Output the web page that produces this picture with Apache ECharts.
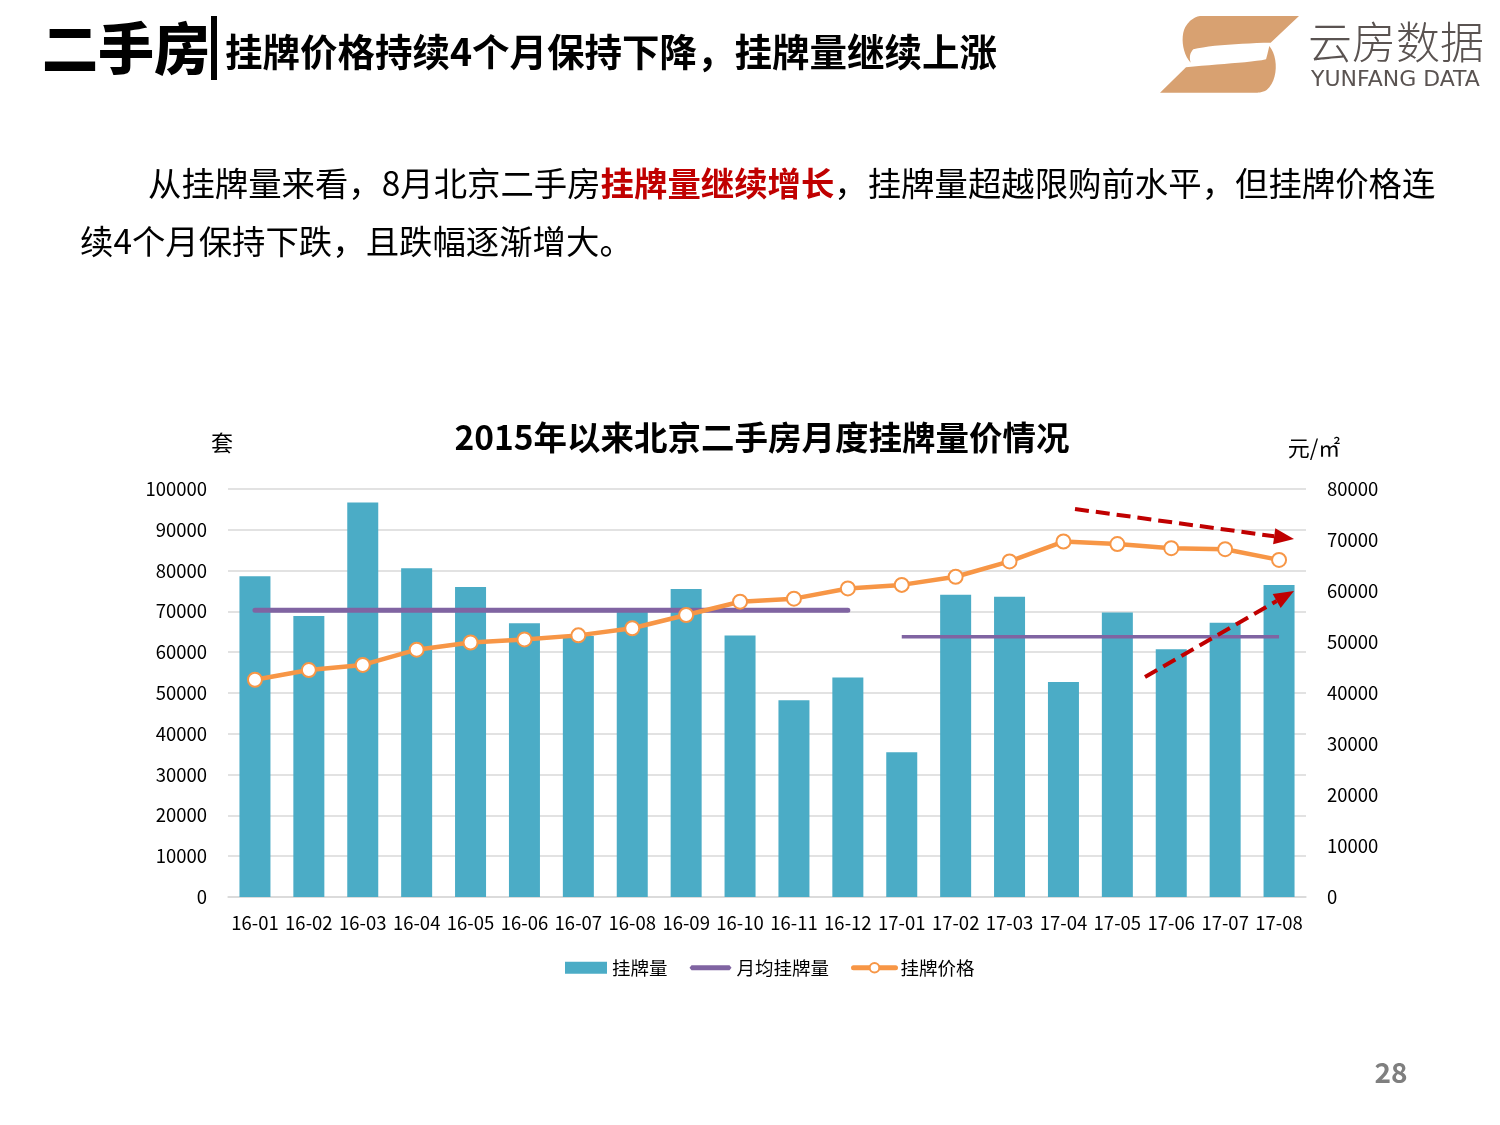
<!DOCTYPE html>
<html>
<head>
<meta charset="utf-8">
<script src="https://cdn.jsdelivr.net/npm/echarts@6/dist/echarts.min.js"></script>
<style>
html, body { margin: 0; padding: 0; background: #fff; }
#main { width: 1500px; height: 1125px; }
</style>
</head>
<body>
<div id="main"></div>
<script>
var months = ['16-01','16-02','16-03','16-04','16-05','16-06','16-07','16-08','16-09','16-10',
              '16-11','16-12','17-01','17-02','17-03','17-04','17-05','17-06','17-07','17-08'];
// 挂牌量 (套)
var listingCount = [78600, 68900, 96700, 80600, 76000, 67100, 64000, 70000, 75500, 64100,
                    48200, 53800, 35500, 74100, 73600, 52700, 69700, 60700, 67200, 76500];
// 挂牌价格 (元/㎡)
var listingPrice = [42600, 44500, 45500, 48500, 49900, 50500, 51300, 52700, 55300, 57900,
                    58500, 60500, 61200, 62800, 65800, 69700, 69200, 68400, 68200, 66100];
// 月均挂牌量, 2016 and 2017
var avg2016 = [70300, 70300, 70300, 70300, 70300, 70300, 70300, 70300, 70300, 70300,
               70300, 70300, '-', '-', '-', '-', '-', '-', '-', '-'];
var avg2017 = ['-', '-', '-', '-', '-', '-', '-', '-', '-', '-',
               '-', '-', 63800, 63800, 63800, 63800, 63800, 63800, 63800, 63800];
var leftTicks = [0, 100000, 10000];
var rightTicks = [0, 80000, 10000];

var FONT = '"Noto Sans CJK SC", "Noto Sans", sans-serif';
var RED = '#C00000';

// dashed red arrow, returns graphic elements
function arrow(x1, y1, x2, y2) {
    var ang = Math.atan2(y2 - y1, x2 - x1);
    var len = 20, half = 8;
    var bx = x2 - len * Math.cos(ang), by = y2 - len * Math.sin(ang);
    var px = -Math.sin(ang), py = Math.cos(ang);
    return [{
        type: 'line',
        shape: { x1: x1, y1: y1, x2: bx, y2: by },
        style: { stroke: RED, lineWidth: 4, lineDash: [14, 7] },
        z: 100
    }, {
        type: 'polygon',
        shape: { points: [[x2, y2], [bx + px * half, by + py * half], [bx - px * half, by - py * half]] },
        style: { fill: RED },
        z: 100
    }];
}

// build polygon points from a list of segments: [x,y] for a line-to, [c1x,c1y,c2x,c2y,x,y] for a cubic
function outline(start, segs) {
    var pts = [start], cur = start;
    segs.forEach(function (s) {
        if (s.length === 2) { pts.push(s); cur = s; return; }
        for (var i = 1; i <= 12; i++) {
            var t = i / 12, u = 1 - t;
            pts.push([
                u*u*u*cur[0] + 3*u*u*t*s[0] + 3*u*t*t*s[2] + t*t*t*s[4],
                u*u*u*cur[1] + 3*u*u*t*s[1] + 3*u*t*t*s[3] + t*t*t*s[5]
            ]);
        }
        cur = [s[4], s[5]];
    });
    return pts.map(function (p) { return [1150 + p[0] / 3, 10 + p[1] / 3]; });
}

var logoTop = outline([150, 18], [
    [447, 18], [362, 98],
    [280, 100, 180, 105, 130, 118],
    [118, 130, 118, 145, 122, 158],
    [95, 130, 90, 70, 110, 45],
    [120, 30, 135, 20, 150, 18]
]);
var logoBottom = outline([358, 108], [
    [385, 140, 385, 210, 350, 240],
    [340, 246, 330, 248, 320, 248],
    [30, 248], [108, 172],
    [200, 162, 300, 158, 348, 148],
    [352, 135, 355, 120, 358, 108]
]);

var myChart = echarts.init(document.getElementById('main'));

var graphics = [
    { type: 'text', x: 42, y: 48,
      style: { text: '二手房', font: '900 56px ' + FONT, fill: '#000', verticalAlign: 'middle' } },
    { type: 'rect', shape: { x: 211, y: 16, width: 6, height: 64 }, style: { fill: '#000' } },
    { type: 'text', x: 225, y: 52,
      style: { text: '挂牌价格持续4个月保持下降，挂牌量继续上涨', font: 'bold 37.5px ' + FONT, fill: '#000', verticalAlign: 'middle' } },
    // logo
    { type: 'polygon', shape: { points: logoTop }, style: { fill: '#D8A171' } },
    { type: 'polygon', shape: { points: logoBottom }, style: { fill: '#D8A171' } },
    { type: 'text', x: 1308, y: 42,
      style: { text: '云房数据', font: '300 44px ' + FONT, fill: '#5A5351', verticalAlign: 'middle' } },
    { type: 'text', x: 1311, y: 80,
      style: { text: 'YUNFANG DATA', font: '22px "DejaVu Sans", sans-serif', fill: '#5A5351', verticalAlign: 'middle' } },
    // paragraph
    { type: 'text', x: 148, y: 183,
      style: {
          text: '{n|从挂牌量来看，8月北京二手房}{r|挂牌量继续增长}{n|，挂牌量超越限购前水平，但挂牌价格连}',
          verticalAlign: 'middle',
          rich: {
              n: { font: '33.4px ' + FONT, fill: '#000' },
              r: { font: 'bold 33.4px ' + FONT, fill: RED }
          }
      } },
    { type: 'text', x: 80, y: 241,
      style: { text: '续4个月保持下跌，且跌幅逐渐增大。', font: '33.4px ' + FONT, fill: '#000', verticalAlign: 'middle' } },
    // chart titles
    { type: 'text', x: 762, y: 437,
      style: { text: '2015年以来北京二手房月度挂牌量价情况', font: 'bold 33.5px ' + FONT, fill: '#000',
               align: 'center', verticalAlign: 'middle' } },
    { type: 'text', x: 222, y: 443,
      style: { text: '套', font: '22px ' + FONT, fill: '#000', align: 'center', verticalAlign: 'middle' } },
    { type: 'text', x: 1314, y: 448,
      style: { text: '元/㎡', font: '22px ' + FONT, fill: '#000', align: 'center', verticalAlign: 'middle' } },
    { type: 'text', x: 1391, y: 1072,
      style: { text: '28', font: 'bold 28px ' + FONT, fill: '#7F7F7F', align: 'center', verticalAlign: 'middle' } }
].concat(arrow(1075, 509, 1294, 539)).concat(arrow(1145, 677, 1294, 591));

var plain = function (v) { return String(v); };

var option = {
    animation: false,
    textStyle: { fontFamily: FONT },
    grid: { left: 228, right: 194, top: 489, bottom: 228, containLabel: false },
    legend: {
        bottom: 143,
        left: 560,
        itemWidth: 42,
        itemHeight: 12,
        itemGap: 22,
        textStyle: { fontSize: 18.5, color: '#000', fontFamily: FONT },
        data: [
            { name: '挂牌量', icon: 'rect' },
            { name: '月均挂牌量', icon: 'path://M0,0L0,0M2,3.5L40,3.5L42,6L40,8.5L2,8.5L0,6ZM42,12L42,12' },
            { name: '挂牌价格', lineStyle: { width: 5 } }
        ]
    },
    xAxis: {
        type: 'category',
        data: months,
        axisLine: { lineStyle: { color: '#D9D9D9', width: 1.5 } },
        axisTick: { show: false },
        axisLabel: { interval: 0, color: '#000', fontSize: 18.5, margin: 17, fontFamily: FONT }
    },
    yAxis: [{
        type: 'value',
        min: leftTicks[0], max: leftTicks[1], interval: leftTicks[2],
        axisLine: { show: false },
        axisTick: { show: false },
        axisLabel: { color: '#000', fontSize: 18.5, margin: 21, fontFamily: FONT, formatter: plain },
        splitLine: { lineStyle: { color: '#D9D9D9', width: 1.5 } }
    }, {
        type: 'value',
        min: rightTicks[0], max: rightTicks[1], interval: rightTicks[2],
        axisLine: { show: false },
        axisTick: { show: false },
        axisLabel: { color: '#000', fontSize: 18.5, margin: 21, fontFamily: FONT, formatter: plain },
        splitLine: { show: false }
    }],
    series: [{
        name: '挂牌量',
        type: 'bar',
        data: listingCount,
        barWidth: 31,
        itemStyle: { color: '#4BACC6' },
        z: 2
    }, {
        name: '月均挂牌量',
        type: 'line',
        data: avg2016,
        symbol: 'none',
        lineStyle: { color: '#8064A2', width: 5, cap: 'round' },
        itemStyle: { color: '#8064A2' },
        z: 3
    }, {
        name: '月均挂牌量',
        type: 'line',
        data: avg2017,
        symbol: 'none',
        lineStyle: { color: '#8064A2', width: 3.5 },
        itemStyle: { color: '#8064A2' },
        z: 3
    }, {
        name: '挂牌价格',
        type: 'line',
        yAxisIndex: 1,
        data: listingPrice,
        symbol: 'circle',
        symbolSize: 14,
        lineStyle: { color: '#F79646', width: 4.5, cap: 'round' },
        itemStyle: { color: '#fff', borderColor: '#F79646', borderWidth: 2 },
        z: 4
    }],
    graphic: graphics
};

myChart.setOption(option);
</script>
</body>
</html>
